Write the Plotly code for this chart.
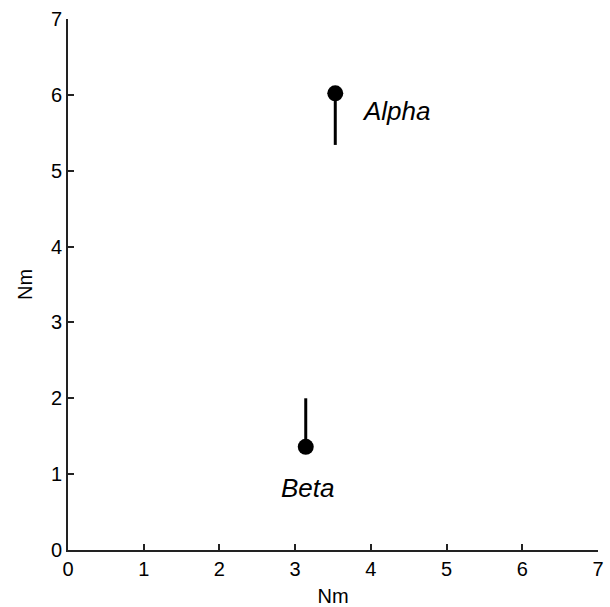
import plotly.graph_objects as go

names = ["Alpha", "Beta"]
dot_x = [3.53, 3.14]
dot_y = [6.02, 1.36]
stem_end_y = [5.34, 2.00]
tick_vals = [0, 1, 2, 3, 4, 5, 6, 7]
tick_text = ["0", "1", "2", "3", "4", "5", "6", "7"]
axis_title = "Nm"

label_shift_x = [61, 2]
label_shift_y = [-18, -41]

fig = go.Figure()
for i, n in enumerate(names):
    fig.add_trace(go.Scatter(
        x=[dot_x[i], dot_x[i]], y=[dot_y[i], stem_end_y[i]],
        mode="lines", line=dict(color="black", width=3),
        showlegend=False, hoverinfo="skip"))
fig.add_trace(go.Scatter(
    x=dot_x, y=dot_y, mode="markers",
    marker=dict(color="black", size=16, symbol="circle"),
    showlegend=False))

for i, n in enumerate(names):
    fig.add_annotation(x=dot_x[i], y=dot_y[i], text=f"<i>{n}</i>", showarrow=False,
                       xshift=label_shift_x[i], yshift=label_shift_y[i],
                       font=dict(size=26, color="black", family="Liberation Sans, Arial"))

axis_common = dict(
    range=[0, 7], tickvals=tick_vals, ticktext=tick_text,
    showgrid=False, zeroline=False, showline=True, linecolor="#222222", linewidth=2,
    ticks="inside", ticklen=6, tickcolor="#222222", tickwidth=2,
    tickfont=dict(size=20, color="black"),
    title=dict(text=axis_title, font=dict(size=20, color="black")),
    automargin=False,
)
fig.update_xaxes(**axis_common)
fig.update_yaxes(**axis_common)
fig.update_xaxes(title_standoff=12)
fig.update_yaxes(title_standoff=13)

fig.update_layout(
    width=610, height=607,
    margin=dict(l=68, r=12, t=19, b=57),
    paper_bgcolor="white", plot_bgcolor="white",
    font=dict(family="Liberation Sans, Arial", color="black"),
)
fig.write_html("out.html", config={"displayModeBar": False},
               post_script="document.body.style.margin='0';")
